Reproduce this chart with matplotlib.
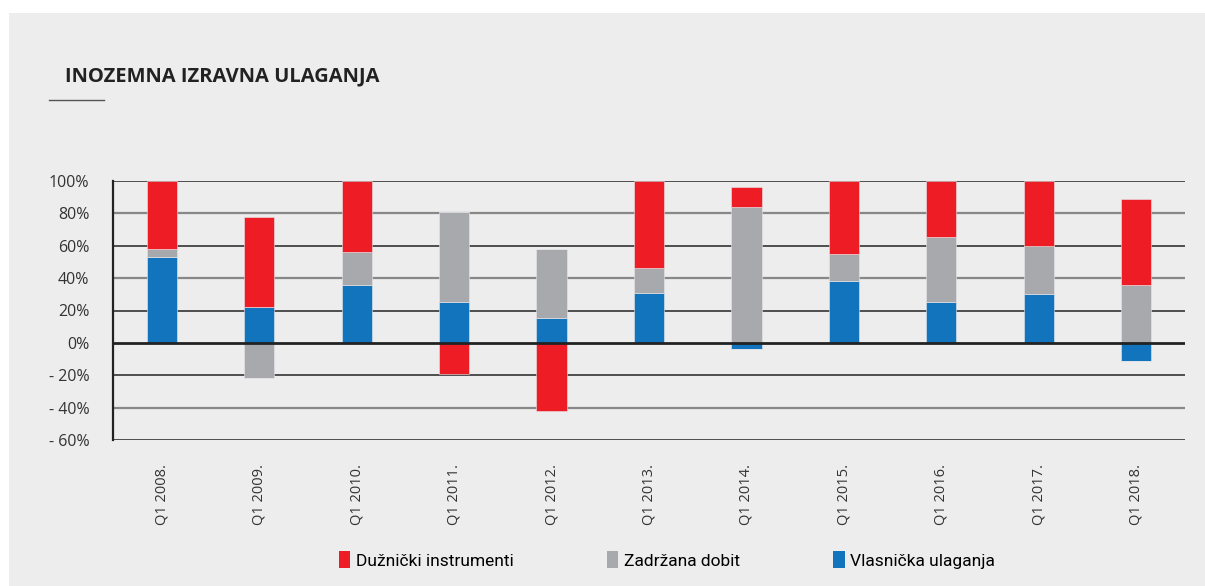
import matplotlib.pyplot as plt
import numpy as np
from matplotlib.patches import Rectangle, Patch
from matplotlib.lines import Line2D

# Data (shares in %)
categories = ['Q1 2008.', 'Q1 2009.', 'Q1 2010.', 'Q1 2011.', 'Q1 2012.', 'Q1 2013.',
              'Q1 2014.', 'Q1 2015.', 'Q1 2016.', 'Q1 2017.', 'Q1 2018.']
vlasnicka = [53, 22, 36, 25, 15.5, 31, -4, 38, 25, 30, -11.5]
zadrzana = [5, -22, 20, 56, 42.5, 15, 84, 17, 40.5, 30, 36]
duznicki = [42, 56, 44, -19, -42, 54, 12, 45, 34.5, 40, 53]
y_ticks = [100, 80, 60, 40, 20, 0, -20, -40, -60]
y_labels = ['100%', '80%', '60%', '40%', '20%', '0%', '- 20%', '- 40%', '- 60%']

colors = {
    'Dužnički instrumenti': '#ee1c25',
    'Zadržana dobit': '#a8a9ac',
    'Vlasnička ulaganja': '#1174bc',
}

plt.rcParams['font.family'] = ['Open Sans', 'DejaVu Sans']

fig = plt.figure(figsize=(12.05, 5.86), dpi=100, facecolor='white')
W, H = 1205, 586

# grey panel
fig.patches.append(Rectangle((9 / W, 0), 1 - 9 / W, (H - 13) / H, transform=fig.transFigure,
                             facecolor='#ededed', edgecolor='none', zorder=-10))

ax = fig.add_axes([113 / W, (H - 440) / H, (1185 - 113) / W, (440 - 181) / H])
ax.set_facecolor('none')

x = np.arange(len(categories))
width = 0.31

# stack positives and negatives separately
pos_bottom = np.zeros(len(x))
neg_bottom = np.zeros(len(x))
for name, vals in [('Vlasnička ulaganja', vlasnicka), ('Zadržana dobit', zadrzana),
                   ('Dužnički instrumenti', duznicki)]:
    vals = np.array(vals, dtype=float)
    pos = np.where(vals > 0, vals, 0)
    neg = np.where(vals < 0, vals, 0)
    ax.bar(x, pos, width, bottom=pos_bottom, color=colors[name], zorder=3,
           edgecolor='#e8e8ea', linewidth=0.4)
    ax.bar(x, neg, width, bottom=neg_bottom, color=colors[name], zorder=3,
           edgecolor='#e8e8ea', linewidth=0.4)
    pos_bottom += pos
    neg_bottom += neg

# gridlines
for i, t in enumerate(y_ticks):
    if t == 0:
        ax.axhline(t, color='#222222', linewidth=2.0, zorder=4)
    elif i % 2 == 0:
        ax.axhline(t, color='#333333', linewidth=1.2, zorder=1)
    else:
        ax.axhline(t, color='#888888', linewidth=1.6, zorder=1)

ax.set_xlim(-0.5, len(x) - 0.5)
ax.set_ylim(-60, 100)
for s in ['top', 'right', 'bottom']:
    ax.spines[s].set_visible(False)
ax.spines['left'].set_color('#222222')
ax.spines['left'].set_linewidth(1.6)

ax.set_yticks(y_ticks)
ax.set_yticklabels(y_labels, fontsize=11.5, color='#333333')
ax.set_xticks(x)
ax.set_xticklabels(categories, rotation=90, fontsize=10.5, color='#333333', va='top')
ax.tick_params(axis='y', length=0, pad=17)
ax.tick_params(axis='x', length=0, pad=17)

# title and underline
fig.text(65 / W, 1 - 76 / H, 'INOZEMNA IZRAVNA ULAGANJA', fontsize=14.5, fontweight='bold',
         color='#222222', va='center', ha='left')
fig.lines.append(Line2D([49 / W, 104 / W], [1 - 100 / H] * 2, transform=fig.transFigure,
                        color='#555555', linewidth=1))

# legend
handles = [Patch(facecolor=c, edgecolor='none', label=n) for n, c in colors.items()]
fig.legend(handles=handles, loc='center', bbox_to_anchor=(667 / W, 1 - 560 / H), ncol=3,
           frameon=False, handlelength=0.65, handleheight=1.1,
           handletextpad=0.3, columnspacing=5.4,
           prop={'family': ['Roboto', 'DejaVu Sans'], 'size': 12.5})

plt.savefig('out.png', dpi=100, facecolor=fig.get_facecolor())
plt.close()
